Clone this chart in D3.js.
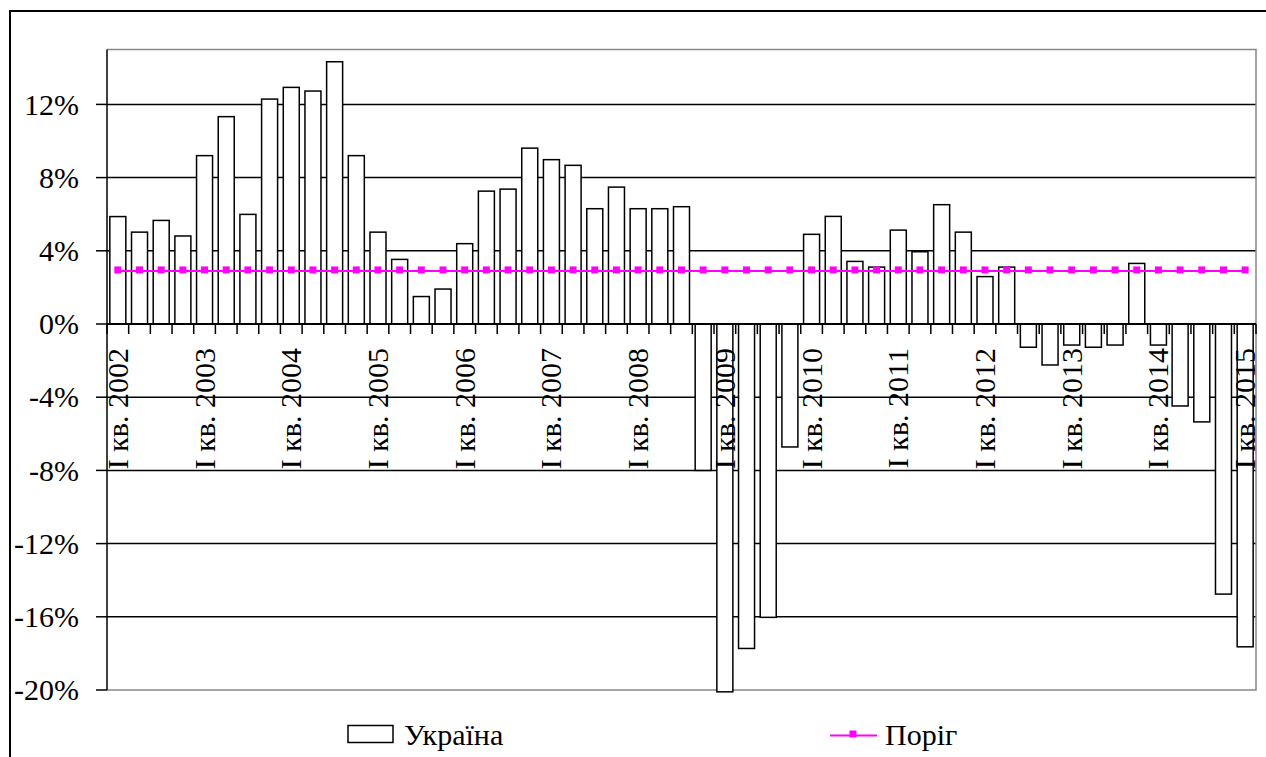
<!DOCTYPE html>
<html>
<head>
<meta charset="utf-8">
<script src="https://cdn.jsdelivr.net/npm/d3@7"></script>
<style>
  html, body { margin: 0; padding: 0; background: #fff; }
  svg { display: block; }
  svg text { font-family: "Liberation Serif", "Times New Roman", Times, serif; fill: #000; }
</style>
</head>
<body>
<svg id="chart" width="1266" height="757" font-family="Liberation Serif, Times New Roman, serif"></svg>
<script>
// ---------- data ----------
const years = [2002, 2003, 2004, 2005, 2006, 2007, 2008, 2009, 2010, 2011, 2012, 2013, 2014, 2015];
const quarterNames = ["I", "II", "III", "IV"];
const categories = [];
years.forEach(y => quarterNames.forEach(q => {
  if (y < 2015 || q === "I") categories.push(q + " кв. " + y);
}));

const ukraine = [
  5.87, 5.02, 5.66, 4.81, 9.2, 11.33, 5.99, 12.29, 12.93, 12.73,
  14.33, 9.2, 5.02, 3.53, 1.5, 1.91, 4.39, 7.26, 7.37, 9.61,
  8.98, 8.67, 6.3, 7.48, 6.3, 6.3, 6.41, -8.0, -20.1, -17.73,
  -16.03, -6.72, 4.9, 5.88, 3.42, 3.11, 5.13, 3.95, 6.52, 5.02,
  2.59, 3.11, -1.27, -2.24, -1.15, -1.27, -1.15, 3.31, -1.15, -4.48,
  -5.35, -14.76, -17.64
];

const threshold = [
  2.9, 2.9, 2.9, 2.9, 2.9, 2.9, 2.9, 2.9, 2.9, 2.9,
  2.9, 2.9, 2.9, 2.9, 2.9, 2.9, 2.9, 2.9, 2.9, 2.9,
  2.9, 2.9, 2.9, 2.9, 2.9, 2.9, 2.9, 2.9, 2.9, 2.9,
  2.9, 2.9, 2.9, 2.9, 2.9, 2.9, 2.9, 2.9, 2.9, 2.9,
  2.9, 2.9, 2.9, 2.9, 2.9, 2.9, 2.9, 2.9, 2.9, 2.9,
  2.9, 2.9, 2.9
];

const yTicks = [-20, -16, -12, -8, -4, 0, 4, 8, 12];
const seriesNames = ["Україна", "Поріг"];

// ---------- layout ----------
const svg = d3.select("#chart");
const plot = { left: 107, right: 1256, top: 49.5, bottom: 690 };
const fontSize = 30;

const x = d3.scaleBand()
  .domain(categories)
  .range([plot.left, plot.right])
  .paddingInner(0.262)
  .paddingOuter(0.131);
const step = x.step();
const boundary = i => plot.left + i * step;

const y = d3.scaleLinear().domain([-20, 15]).range([plot.bottom, plot.top]);

// outer chart border
svg.append("rect")
  .attr("x", 10).attr("y", 11)
  .attr("width", 1400).attr("height", 900)
  .attr("fill", "none").attr("stroke", "#000").attr("stroke-width", 2);

// gridlines
svg.append("g").selectAll("line")
  .data(yTicks.filter(d => d !== 0 && d !== -20))
  .join("line")
  .attr("x1", plot.left).attr("x2", plot.right)
  .attr("y1", d => y(d)).attr("y2", d => y(d))
  .attr("stroke", "#000").attr("stroke-width", 1.5);

// plot area border (gray)
svg.append("path")
  .attr("d", `M${plot.left},${plot.top}H${plot.right}V${plot.bottom}H${plot.left}`)
  .attr("fill", "none").attr("stroke", "#888").attr("stroke-width", 1.5);

// bars
svg.append("g").selectAll("rect")
  .data(ukraine)
  .join("rect")
  .attr("x", (d, i) => x(categories[i]))
  .attr("width", x.bandwidth())
  .attr("y", d => Math.min(y(d), y(0)))
  .attr("height", d => Math.abs(y(d) - y(0)))
  .attr("fill", "#fff")
  .attr("stroke", "#000")
  .attr("stroke-width", 1.5);

// y axis line
svg.append("line")
  .attr("x1", plot.left).attr("x2", plot.left)
  .attr("y1", plot.top).attr("y2", plot.bottom)
  .attr("stroke", "#000").attr("stroke-width", 1.5);

// y ticks + labels
const yAxisG = svg.append("g");
yAxisG.selectAll("line")
  .data(yTicks).join("line")
  .attr("x1", plot.left - 11).attr("x2", plot.left)
  .attr("y1", d => y(d)).attr("y2", d => y(d))
  .attr("stroke", "#000").attr("stroke-width", 1.5);
yAxisG.selectAll("text")
  .data(yTicks).join("text")
  .attr("x", 79)
  .attr("y", d => y(d))
  .attr("dy", "0.34em")
  .attr("text-anchor", "end")
  .attr("font-size", fontSize)
  .text(d => d + "%");

// x axis (zero line)
svg.append("line")
  .attr("x1", plot.left).attr("x2", plot.right)
  .attr("y1", y(0)).attr("y2", y(0))
  .attr("stroke", "#000").attr("stroke-width", 2);

// x tick marks at category boundaries
svg.append("g").selectAll("line")
  .data(d3.range(categories.length + 1))
  .join("line")
  .attr("x1", i => boundary(i)).attr("x2", i => boundary(i))
  .attr("y1", y(0)).attr("y2", y(0) + 10)
  .attr("stroke", "#000").attr("stroke-width", 1.5);

// threshold line
const lineGen = d3.line()
  .x((d, i) => x(categories[i]) + x.bandwidth() / 2)
  .y(d => y(d));
svg.append("path")
  .datum(threshold)
  .attr("d", lineGen)
  .attr("fill", "none")
  .attr("stroke", "#FF00FF")
  .attr("stroke-width", 2);
svg.append("g").selectAll("rect")
  .data(threshold).join("rect")
  .attr("x", (d, i) => x(categories[i]) + x.bandwidth() / 2 - 3.5)
  .attr("y", d => y(d) - 4.5)
  .attr("width", 7).attr("height", 7)
  .attr("fill", "#FF00FF");

// x labels (every 4th category), rotated
svg.append("g").selectAll("text")
  .data(categories.map((c, i) => ({ c, i })).filter(d => d.i % 4 === 0))
  .join("text")
  .attr("transform", d => `translate(${x(d.c) + x.bandwidth() / 2 + 10},348) rotate(-90)`)
  .attr("text-anchor", "end")
  .attr("font-size", fontSize)
  .text(d => d.c);

// legend
const lg = svg.append("g");
lg.append("rect")
  .attr("x", 348).attr("y", 725.5)
  .attr("width", 45).attr("height", 17)
  .attr("fill", "#fff").attr("stroke", "#000").attr("stroke-width", 1.5);
lg.append("text")
  .attr("x", 404).attr("y", 745)
  .attr("font-size", fontSize)
  .text(seriesNames[0]);
lg.append("line")
  .attr("x1", 830).attr("x2", 877)
  .attr("y1", 735.5).attr("y2", 735.5)
  .attr("stroke", "#FF00FF").attr("stroke-width", 2);
lg.append("rect")
  .attr("x", 849.5).attr("y", 730.5)
  .attr("width", 7).attr("height", 7)
  .attr("fill", "#FF00FF");
lg.append("text")
  .attr("x", 885).attr("y", 745)
  .attr("font-size", fontSize)
  .text(seriesNames[1]);
</script>
</body>
</html>
